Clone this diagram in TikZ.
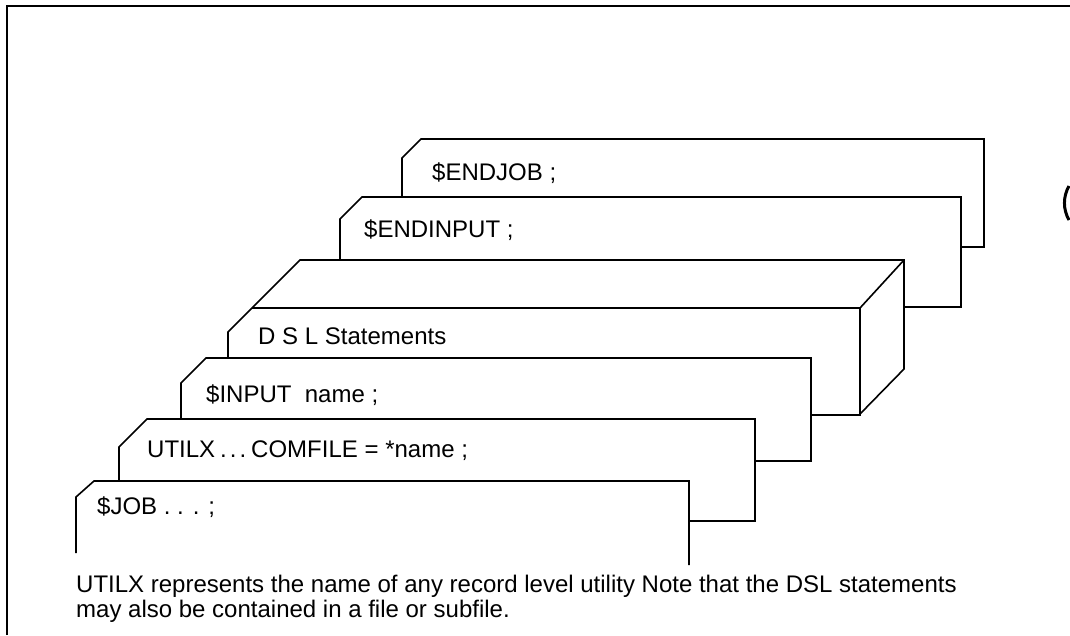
\documentclass[tikz,border=0pt]{standalone}
\usepackage{fontspec}
\setmainfont{Liberation Sans}
\begin{document}
\begin{tikzpicture}[x=1pt,y=-1pt,line join=miter,
  frame/.style={draw=black,line width=2.4pt},
  card/.style={draw=black,line width=1.6pt},
  lbl/.style={anchor=base west,inner sep=0pt,font=\fontsize{24}{28}\selectfont},
  capt/.style={anchor=base west,inner sep=0pt,font=\fontsize{24}{28}\selectfont}]
\useasboundingbox (0,0) rectangle (1070,635);
% outer frame
\draw[frame] (7,635) -- (7,6) -- (1070,6);
% scan artefact at right border
\draw[line width=3pt] (1069,220) arc[start angle=150,end angle=210,radius=34];
% ENDJOB card
\draw[card] (402,197) -- (402,158) -- (421,139) -- (984,139) -- (984,247) -- (961,247);
% ENDINPUT card
\draw[card] (340,260) -- (340,219) -- (362,197) -- (961,197) -- (961,307) -- (904,307);
% 3D box holding the DSL statements
\draw[card] (228,358) -- (228,332) -- (300,260) -- (904,260) -- (904,369) -- (860,414);
\draw[card] (252,308) -- (860,308) -- (904,260);
\draw[card] (860,308) -- (860,415) -- (811,415);
% $INPUT card
\draw[card] (181,419) -- (181,383) -- (206,358) -- (811,358) -- (811,461) -- (755,461);
% UTILX card
\draw[card] (119,481) -- (119,447) -- (147,419) -- (755,419) -- (755,521) -- (689,521);
% $JOB card
\draw[card] (76,553) -- (76,497) -- (94,481) -- (689,481) -- (689,565);
% texts
\node[lbl] (endjob)   at (432,180) {\$ENDJOB ;};
\node[lbl] (endinput) at (364,237) {\$ENDINPUT ;};
\node[lbl] (dsl)      at (258,344) {D S L Statements};
\node[lbl] (input)    at (206,402) {\$INPUT\ \ name ;};
\node[lbl] (utilx)    at (147,457) {UTILX\hspace{5pt}.\hspace{3pt}.\hspace{3pt}.\hspace{5pt}COMFILE = *name ;};
\node[lbl] (job)      at (97,514)  {\$JOB . . . ;};
\node[capt] (cap1) at (76,592) {UTILX represents the name of any record level utility Note that the DSL statements};
\node[capt] (cap2) at (76,617) {may also be contained in a file or subfile.};
\end{tikzpicture}
\end{document}
